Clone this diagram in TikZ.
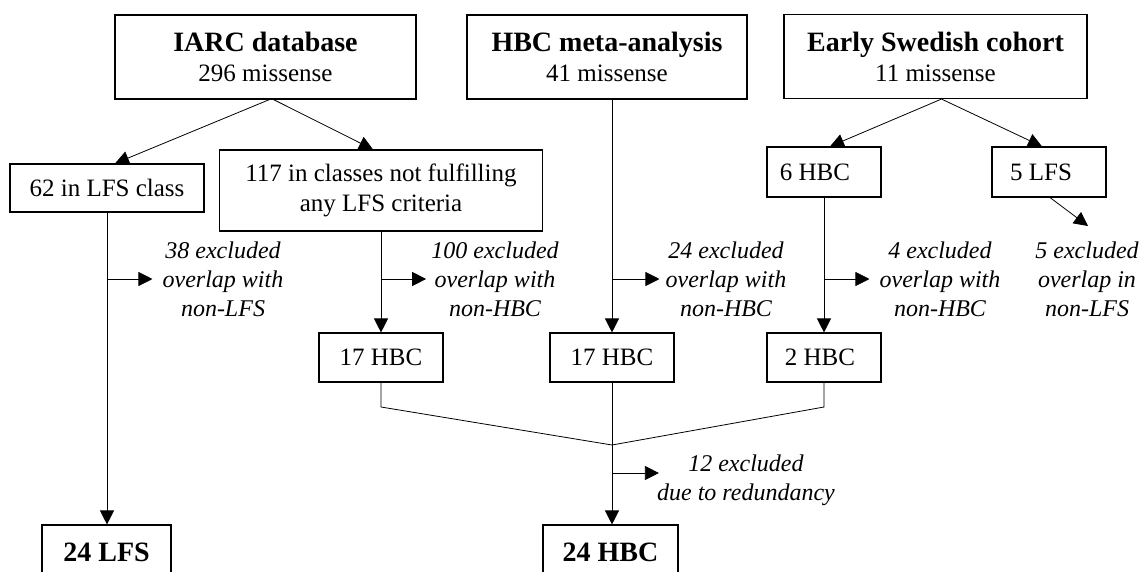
\documentclass[tikz,border=0pt]{standalone}
\usepackage{fontspec}
\setmainfont{Liberation Serif}
\usetikzlibrary{arrows.meta,calc}
\begin{document}
\begin{tikzpicture}[x=1pt,y=-1pt,
  box/.style={draw, line width=1.1pt, inner sep=0pt, align=center, font=\fontsize{25}{30}\selectfont},
  conn/.style={line width=0.8pt},
  arr/.style={conn, -{Triangle[length=14pt,width=14pt]}},
  note/.style={inner sep=0pt, align=center, font=\fontsize{24}{29}\selectfont\itshape}]
\clip (0,0) rectangle (1141,571);
% top sources
\node[box, minimum width=301pt, minimum height=84pt] (iarc) at (265.5,57)
  {{\fontsize{28}{30}\selectfont\bfseries IARC database}\\296 missense};
\node[box, minimum width=280pt, minimum height=84pt] (hbcm) at (607,57)
  {{\fontsize{28}{30}\selectfont\bfseries HBC meta-analysis}\\41 missense};
\node[box, minimum width=303pt, minimum height=84pt] (early) at (935.5,56.5)
  {{\fontsize{28}{30}\selectfont\bfseries Early Swedish cohort}\\11 missense};
% second row
\node[box, minimum width=194pt, minimum height=48pt] (lfs62) at (107,188) {62 in LFS class};
\node[box, minimum width=323pt, minimum height=81pt] (c117) at (381,190.5)
  {117 in classes not fulfilling\\any LFS criteria};
\node[box, minimum width=114pt, minimum height=50pt] (hbc6) at (824,172) {6 HBC\hspace*{18pt}};
\node[box, minimum width=114pt, minimum height=50pt] (lfs5) at (1049,172) {5 LFS\hspace*{16pt}};
% third row
\node[box, minimum width=124pt, minimum height=49pt] (h17a) at (381,357.5) {17 HBC};
\node[box, minimum width=124pt, minimum height=49pt] (h17b) at (612,357.5) {17 HBC};
\node[box, minimum width=114pt, minimum height=49pt] (h2) at (824,357.5) {2 HBC\hspace*{8pt}};
% results
\node[box, minimum width=129pt, minimum height=54pt, font=\fontsize{28}{30}\selectfont\bfseries] (lfs24) at (106.5,552) {24 LFS};
\node[box, minimum width=135pt, minimum height=54pt, font=\fontsize{28}{30}\selectfont\bfseries] (hbc24) at (610.5,552) {24 HBC};
% notes
\node[note] (l38) at (223,279) {38 excluded\\overlap with\\non-LFS};
\node[note] (l100) at (495,279) {100 excluded\\overlap with\\non-HBC};
\node[note] (l24) at (726,279) {24 excluded\\overlap with\\non-HBC};
\node[note] (l4) at (940,279) {4 excluded\\overlap with\\non-HBC};
\node[note] (l5) at (1087,279) {5 excluded\\overlap in\\non-LFS};
\node[note] (l12) at (746,480) {12 excluded\\due to redundancy};
% coordinates
\coordinate (b38) at (107,279);
\coordinate (b100) at (381,279);
\coordinate (b24) at (612,279);
\coordinate (b4) at (824,279);
\coordinate (b12) at (612,473);
\coordinate (ka) at (381,407);
\coordinate (kc) at (824,407);
\coordinate (m) at (612,445);
\coordinate (t5) at (1088,226);
% connectors from sources
\draw[arr] ([xshift=4pt]iarc.south) -- ([xshift=8pt]lfs62.north);
\draw[arr] ([xshift=8pt]iarc.south) -- ([xshift=-8pt]c117.north);
\draw[arr] ([xshift=6pt]early.south) -- ([xshift=6pt]hbc6.north);
\draw[arr] ([xshift=6pt]early.south) -- ([xshift=-7pt]lfs5.north);
\draw[arr] (hbcm.south -| h17b.north) -- (h17b.north);
\draw[arr] (c117.south -| h17a.north) -- (h17a.north);
\draw[arr] (hbc6.south) -- (h2.north);
\draw[arr] (lfs62.south) -- (lfs62.south |- lfs24.north);
\draw[arr] ([xshift=1pt]lfs5.south) -- (t5);
% side exclusions
\draw[arr] (b38) -- ($(b38 -| l38.west)+(-10,0)$);
\draw[arr] (b100) -- ($(b100 -| l100.west)+(-5,0)$);
\draw[arr] (b24) -- ($(b24 -| l24.west)+(-6,0)$);
\draw[arr] (b4) -- ($(b4 -| l4.west)+(-10,0)$);
\draw[arr] (b12) -- ($(b12 -| l12.west)+(2,0)$);
% merge
\draw[conn] (h17a.south) -- (ka) -- (m);
\draw[conn] (h2.south) -- (kc) -- (m);
\draw[conn] (h17b.south) -- (m);
\draw[arr] (m) -- (m |- hbc24.north);
\end{tikzpicture}
\end{document}
